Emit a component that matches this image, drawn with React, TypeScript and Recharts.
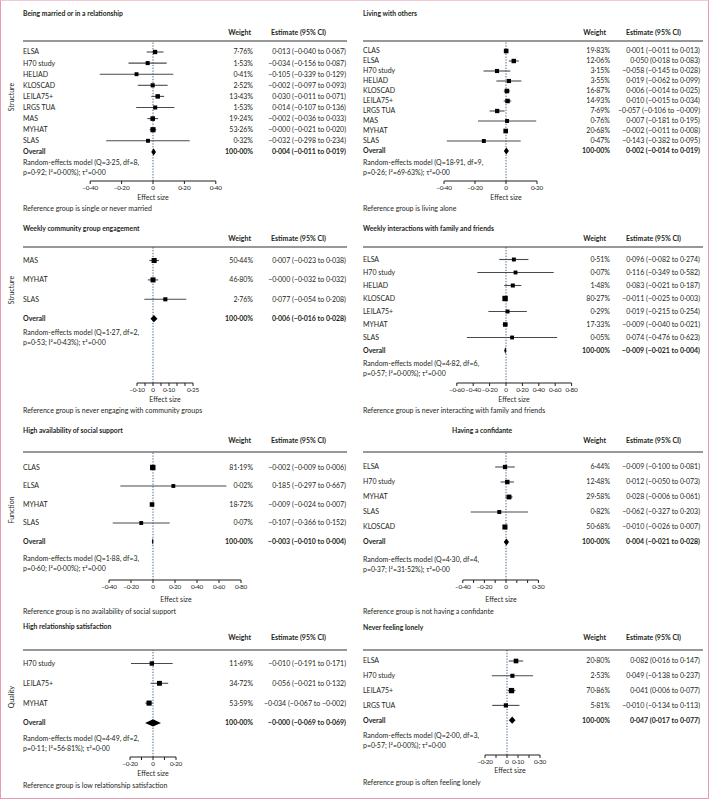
import React from 'react';
import { ScatterChart, Scatter, XAxis, YAxis, ErrorBar, ReferenceLine } from 'recharts';

const FONT = 'Lato, "Open Sans", sans-serif';
const INK = '#231f20';

// Being married or in a relationship
const marriedStudies = ['ELSA', 'H70 study', 'HELIAD', 'KLOSCAD', 'LEILA75+', 'LRGS TUA', 'MAS', 'MYHAT', 'SLAS', 'Overall'];
const marriedWeights = [7.76, 1.53, 0.41, 2.52, 13.43, 1.53, 19.24, 53.26, 0.32, 100];
const marriedEst = [0.013, -0.034, -0.105, -0.002, 0.03, 0.014, -0.002, -0, -0.032, 0.004];
const marriedLo = [-0.04, -0.156, -0.339, -0.097, -0.011, -0.107, -0.036, -0.021, -0.298, -0.011];
const marriedHi = [0.067, 0.087, 0.129, 0.093, 0.071, 0.136, 0.033, 0.02, 0.234, 0.019];
const marriedTicks = [-0.4, -0.2, 0, 0.2, 0.4];
const marriedLabels = [-0.4, -0.2, 0, 0.2, 0.4];

// Living with others
const livingStudies = ['CLAS', 'ELSA', 'H70 study', 'HELIAD', 'KLOSCAD', 'LEILA75+', 'LRGS TUA', 'MAS', 'MYHAT', 'SLAS', 'Overall'];
const livingWeights = [19.83, 12.06, 3.15, 3.55, 16.87, 14.93, 7.69, 0.76, 20.68, 0.47, 100];
const livingEst = [0.001, 0.05, -0.058, 0.019, 0.006, 0.01, -0.057, 0.007, -0.002, -0.143, 0.002];
const livingLo = [-0.011, 0.018, -0.145, -0.062, -0.014, -0.015, -0.106, -0.181, -0.011, -0.382, -0.014];
const livingHi = [0.013, 0.083, 0.028, 0.099, 0.025, 0.034, -0.009, 0.195, 0.008, 0.095, 0.019];
const livingTicks = [-0.4, -0.2, 0, 0.2];
const livingLabels = [-0.4, -0.2, 0, 0.2];

// Weekly community group engagement
const communityStudies = ['MAS', 'MYHAT', 'SLAS', 'Overall'];
const communityWeights = [50.44, 46.8, 2.76, 100];
const communityEst = [0.007, -0, 0.077, 0.006];
const communityLo = [-0.023, -0.032, -0.054, -0.016];
const communityHi = [0.038, 0.032, 0.208, 0.028];
const communityTicks = [-0.1, -0.05, 0, 0.05, 0.1, 0.15, 0.2, 0.25];
const communityLabels = [-0.1, 0, 0.1, 0.25];

// Weekly interactions with family and friends
const familyStudies = ['ELSA', 'H70 study', 'HELIAD', 'KLOSCAD', 'LEILA75+', 'MYHAT', 'SLAS', 'Overall'];
const familyWeights = [0.51, 0.07, 1.48, 80.27, 0.29, 17.33, 0.05, 100];
const familyEst = [0.096, 0.116, 0.083, -0.011, 0.019, -0.009, 0.074, -0.009];
const familyLo = [-0.082, -0.349, -0.021, -0.025, -0.215, -0.04, -0.476, -0.021];
const familyHi = [0.274, 0.582, 0.187, 0.003, 0.254, 0.021, 0.623, 0.004];
const familyTicks = [-0.6, -0.4, -0.2, 0, 0.2, 0.4, 0.6, 0.8];
const familyLabels = [-0.6, -0.4, -0.2, 0, 0.2, 0.4, 0.6, 0.8];

// High availability of social support
const supportStudies = ['CLAS', 'ELSA', 'MYHAT', 'SLAS', 'Overall'];
const supportWeights = [81.19, 0.02, 18.72, 0.07, 100];
const supportEst = [-0.002, 0.185, -0.009, -0.107, -0.003];
const supportLo = [-0.009, -0.297, -0.024, -0.366, -0.01];
const supportHi = [0.006, 0.667, 0.007, 0.152, 0.004];
const supportTicks = [-0.4, -0.2, 0, 0.2, 0.4, 0.6, 0.8];
const supportLabels = [-0.4, -0.2, 0, 0.2, 0.4, 0.6, 0.8];

// Having a confidante
const confidanteStudies = ['ELSA', 'H70 study', 'MYHAT', 'SLAS', 'KLOSCAD', 'Overall'];
const confidanteWeights = [6.44, 12.48, 29.58, 0.82, 50.68, 100];
const confidanteEst = [-0.009, 0.012, 0.028, -0.062, -0.01, 0.004];
const confidanteLo = [-0.1, -0.05, -0.006, -0.327, -0.026, -0.021];
const confidanteHi = [0.081, 0.073, 0.061, 0.203, 0.007, 0.028];
const confidanteTicks = [-0.4, -0.3, -0.2, -0.1, 0, 0.1, 0.2, 0.3];
const confidanteLabels = [-0.4, -0.2, 0, 0.3];

// High relationship satisfaction
const satisfactionStudies = ['H70 study', 'LEILA75+', 'MYHAT', 'Overall'];
const satisfactionWeights = [11.69, 34.72, 53.59, 100];
const satisfactionEst = [-0.01, 0.056, -0.034, -0];
const satisfactionLo = [-0.191, -0.021, -0.067, -0.069];
const satisfactionHi = [0.171, 0.132, -0.002, 0.069];
const satisfactionTicks = [-0.2, -0.1, 0, 0.1, 0.2];
const satisfactionLabels = [-0.2, 0, 0.2];

// Never feeling lonely
const lonelyStudies = ['ELSA', 'H70 study', 'LEILA75+', 'LRGS TUA', 'Overall'];
const lonelyWeights = [20.8, 2.53, 70.86, 5.81, 100];
const lonelyEst = [0.082, 0.049, 0.041, -0.01, 0.047];
const lonelyLo = [0.016, -0.138, 0.006, -0.134, 0.017];
const lonelyHi = [0.147, 0.237, 0.077, 0.113, 0.077];
const lonelyTicks = [-0.2, -0.1, 0, 0.1, 0.2, 0.3];
const lonelyLabels = [-0.2, 0, 0.1, 0.3];

const fmt = (v: number) => {
  const neg = v < 0 || Object.is(v, -0);
  return (neg ? '−' : '') + Math.abs(v).toFixed(3).replace('.', '·');
};
const fmtTick = (v: number) => {
  if (Math.abs(v) < 1e-9) return '0';
  return (v < 0 ? '−' : '') + Math.abs(v).toFixed(2).replace('.', '·');
};
const fmtWeight = (w: number) => w.toFixed(2).replace('.', '·') + '%';

const panels = [
  {
    title: 'Being married or in a relationship', studies: marriedStudies, weights: marriedWeights,
    est: marriedEst, lo: marriedLo, hi: marriedHi, ticks: marriedTicks, labels: marriedLabels,
    model: ['Random-effects model (Q=3·25, df=8,', 'p=0·92; I²=0·00%); τ²=0·00'],
    reference: 'Reference group is single or never married', side: 'Structure', sideY: 97,
    left: 0, titleX: 23, titleY: 14, headerY: 33, lineY: 41, rowY: 52, rowStep: 11.1, axisY: 181,
    zeroX: 153, ppu: 157, domain: [-0.4, 0.4], modelY: 163, effectX: 153, effectY: 198, refY: 209,
  },
  {
    title: 'Living with others', studies: livingStudies, weights: livingWeights,
    est: livingEst, lo: livingLo, hi: livingHi, ticks: livingTicks, labels: livingLabels,
    model: ['Random-effects model (Q=18·91, df=9,', 'p=0·26; I²=69·63%); τ²=0·00'],
    reference: 'Reference group is living alone',
    left: 355, titleX: 363, titleY: 14, headerY: 33, lineY: 41, rowY: 51, rowStep: 10, axisY: 181,
    zeroX: 506, ppu: 155, domain: [-0.4, 0.2], modelY: 163, effectX: 506, effectY: 198, refY: 209,
  },
  {
    title: 'Weekly community group engagement', studies: communityStudies, weights: communityWeights,
    est: communityEst, lo: communityLo, hi: communityHi, ticks: communityTicks, labels: communityLabels,
    model: ['Random-effects model (Q=1·27, df=2,', 'p=0·53; I²=0·43%); τ²=0·00'],
    reference: 'Reference group is never engaging with community groups', side: 'Structure', sideY: 290,
    left: 0, titleX: 23, titleY: 229, headerY: 239, lineY: 247, rowY: 260.5, rowStep: 19.4, axisY: 383,
    zeroX: 153, ppu: 160, domain: [-0.1, 0.25], modelY: 333, effectX: 165, effectY: 400, refY: 411,
  },
  {
    title: 'Weekly interactions with family and friends', studies: familyStudies, weights: familyWeights,
    est: familyEst, lo: familyLo, hi: familyHi, ticks: familyTicks, labels: familyLabels,
    model: ['Random-effects model (Q=4·82, df=6,', 'p=0·57; I²=0·00%); τ²=0·00'],
    reference: 'Reference group is never interacting with family and friends',
    left: 355, titleX: 363, titleY: 229, headerY: 239, lineY: 247, rowY: 259.5, rowStep: 13, axisY: 383,
    zeroX: 506, ppu: 82, domain: [-0.6, 0.8], modelY: 364, effectX: 514, effectY: 400, refY: 411,
  },
  {
    title: 'High availability of social support', studies: supportStudies, weights: supportWeights,
    est: supportEst, lo: supportLo, hi: supportHi, ticks: supportTicks, labels: supportLabels,
    model: ['Random-effects model (Q=1·88, df=3,', 'p=0·60; I²=0·00%); τ²=0·00'],
    reference: 'Reference group is no availability of social support', side: 'Function', sideY: 510,
    left: 0, titleX: 23, titleY: 431, headerY: 441, lineY: 452, rowY: 467.5, rowStep: 18.5, axisY: 580,
    zeroX: 153, ppu: 110, domain: [-0.4, 0.8], modelY: 559, effectX: 176, effectY: 600, refY: 612,
  },
  {
    title: 'Having a confidante', studies: confidanteStudies, weights: confidanteWeights,
    est: confidanteEst, lo: confidanteLo, hi: confidanteHi, ticks: confidanteTicks, labels: confidanteLabels,
    model: ['Random-effects model (Q=4·30, df=4,', 'p=0·37; I²=31·52%); τ²=0·00'],
    reference: 'Reference group is not having a confidante',
    left: 355, titleX: 452, titleY: 431, headerY: 441, lineY: 452, rowY: 467, rowStep: 15, axisY: 580,
    zeroX: 506, ppu: 108, domain: [-0.4, 0.3], modelY: 560, effectX: 501, effectY: 600, refY: 612,
  },
  {
    title: 'High relationship satisfaction', studies: satisfactionStudies, weights: satisfactionWeights,
    est: satisfactionEst, lo: satisfactionLo, hi: satisfactionHi, ticks: satisfactionTicks, labels: satisfactionLabels,
    model: ['Random-effects model (Q=4·49, df=2,', 'p=0·11; I²=56·81%); τ²=0·00'],
    reference: 'Reference group is low relationship satisfaction', side: 'Quality', sideY: 697,
    left: 0, titleX: 23, titleY: 627, headerY: 638, lineY: 650, rowY: 663.5, rowStep: 19.8, axisY: 757,
    zeroX: 153, ppu: 115, domain: [-0.2, 0.2], modelY: 739, effectX: 153, effectY: 774, refY: 786,
  },
  {
    title: 'Never feeling lonely', studies: lonelyStudies, weights: lonelyWeights,
    est: lonelyEst, lo: lonelyLo, hi: lonelyHi, ticks: lonelyTicks, labels: lonelyLabels,
    model: ['Random-effects model (Q=2·00, df=3,', 'p=0·57; I²=0·00%); τ²=0·00'],
    reference: 'Reference group is often feeling lonely',
    left: 355, titleX: 363, titleY: 628, headerY: 638, lineY: 650, rowY: 661, rowStep: 14.8, axisY: 755,
    zeroX: 507, ppu: 110, domain: [-0.2, 0.3], modelY: 736, effectX: 510, effectY: 771, refY: 783,
  },
];

const PANEL_W = 355;
const X_AXIS_H = 16;
const Y_AXIS_W = 1;

const squareSide = (w: number) => 3.8 + 1.8 * Math.sqrt(w / 100);

const Forest = ({ p }: { p: any }) => {
  const n = p.studies.length - 1;
  const isLeft = p.left === 0;
  const nameX = isLeft ? 23 : 8;
  const weightX = isLeft ? 253 : 255;
  const estX = isLeft ? 346 : 345;

  const [d0, d1] = p.domain;
  const plotLeft = p.zeroX - p.left + d0 * p.ppu;
  const plotW = (d1 - d0) * p.ppu;
  const mL = plotLeft - Y_AXIS_W;
  const mR = PANEL_W - plotLeft - plotW;
  const height = p.axisY - p.lineY + X_AXIS_H;
  const yTop = (p.lineY - p.rowY) / p.rowStep;
  const yBottom = (p.axisY - p.rowY) / p.rowStep;
  const hh = 3.6 / p.rowStep;

  const rows = p.studies.slice(0, n).map((s: string, i: number) => ({
    x: p.est[i],
    y: i,
    w: p.weights[i],
    err: [p.est[i] - p.lo[i], p.hi[i] - p.est[i]],
  }));
  const diamond = [
    { x: p.lo[n], y: n },
    { x: p.est[n], y: n - hh },
    { x: p.hi[n], y: n },
    { x: p.est[n], y: n + hh },
  ];
  const rowTicks = p.studies.map((_: string, i: number) => i);

  const RowTick = (props: any) => {
    const { y, payload } = props;
    const i = payload.value;
    const bold = i === n;
    const common = { y, dy: '0.35em', fontSize: 7, fill: INK, fontFamily: FONT, fontWeight: bold ? 700 : 400 };
    return (
      <g>
        <text x={nameX} {...common}>{p.studies[i]}</text>
        <text x={weightX} textAnchor="end" {...common}>{fmtWeight(p.weights[i])}</text>
        <text x={estX} textAnchor="end" {...common}>
          {`${fmt(p.est[i])} (${fmt(p.lo[i])} to ${fmt(p.hi[i])})`}
        </text>
      </g>
    );
  };

  const AxisTick = (props: any) => {
    const { x, y, payload } = props;
    const v = payload.value;
    if (!p.labels.some((l: number) => Math.abs(l - v) < 1e-9)) return <g />;
    return (
      <text x={x} y={y} dy="0.71em" textAnchor="middle" fontSize={6.4} letterSpacing={-0.15} fill={INK} fontFamily={FONT}>
        {fmtTick(v)}
      </text>
    );
  };

  return (
    <div style={{ position: 'absolute', left: p.left, top: p.lineY }}>
      <ScatterChart width={PANEL_W} height={height} margin={{ top: 0, right: mR, bottom: 0, left: mL }}>
        <XAxis
          type="number"
          dataKey="x"
          domain={p.domain}
          allowDataOverflow
          ticks={p.ticks}
          interval={0}
          height={X_AXIS_H}
          tickSize={3}
          tickMargin={1}
          axisLine={{ stroke: INK, strokeWidth: 1 }}
          tickLine={{ stroke: INK, strokeWidth: 1 }}
          tick={AxisTick}
        />
        <YAxis
          type="number"
          dataKey="y"
          domain={[yTop, yBottom]}
          allowDataOverflow
          reversed
          ticks={rowTicks}
          interval={0}
          width={Y_AXIS_W}
          axisLine={false}
          tickLine={false}
          tick={RowTick}
        />
        <ReferenceLine x={0} stroke="#3f6189" strokeWidth={1} strokeDasharray="1.3 1.5" />
        <Scatter
          data={rows}
          isAnimationActive={false}
          fill="#000"
          shape={(s: any) => {
            const side = squareSide(s.payload.w);
            return <rect x={s.cx - side / 2} y={s.cy - side / 2} width={side} height={side} fill="#000" />;
          }}
        >
          <ErrorBar dataKey="err" direction="x" width={0} stroke="#4a4a4a" strokeWidth={1.1} isAnimationActive={false} />
        </Scatter>
        <Scatter
          data={diamond}
          isAnimationActive={false}
          fill="#000"
          shape={() => <g />}
          line={(lp: any) => (
            <polygon points={lp.points.map((pt: any) => `${pt.x},${pt.y}`).join(' ')} fill="#000" stroke="none" />
          )}
          lineType="joint"
        />
      </ScatterChart>
    </div>
  );
};

const Labels = () => (
  <svg width={710} height={801} style={{ position: 'absolute', left: 0, top: 0, pointerEvents: 'none' }}>
    {panels.map((p, k) => {
      const isLeft = p.left === 0;
      const x = p.left + (isLeft ? 23 : 8);
      const lineEnd = p.left + (isLeft ? 347 : 348);
      const t = { fontFamily: FONT, fill: INK, fontSize: 7 };
      return (
        <g key={k}>
          <text x={p.titleX} y={p.titleY} dy="0.35em" {...t} fontSize={6.8} fontWeight={700}>{p.title}</text>
          <text x={p.left + 251} y={p.headerY} dy="0.35em" textAnchor="end" {...t} fontWeight={700}>Weight</text>
          <text x={p.left + 271} y={p.headerY} dy="0.35em" {...t} fontWeight={700}>Estimate (95% CI)</text>
          <line x1={x} x2={lineEnd} y1={p.lineY} y2={p.lineY} stroke="#333" strokeWidth={1.2} />
          <text x={x} y={p.modelY} dy="0.35em" {...t}>{p.model[0]}</text>
          <text x={x} y={p.modelY + 9.5} dy="0.35em" {...t}>{p.model[1]}</text>
          <text x={p.effectX} y={p.effectY} dy="0.35em" textAnchor="middle" {...t}>Effect size</text>
          <text x={x} y={p.refY} dy="0.35em" {...t}>{p.reference}</text>
          {p.side && (
            <text
              x={12}
              y={p.sideY}
              dy="0.35em"
              textAnchor="middle"
              transform={`rotate(-90 12 ${p.sideY})`}
              {...t}
            >
              {p.side}
            </text>
          )}
        </g>
      );
    })}
  </svg>
);

export default function App() {
  return (
    <div style={{ position: 'absolute', left: 0, top: 0, width: 710, height: 801, background: '#fff', fontFamily: FONT }}>
      {panels.map((p, k) => (
        <Forest key={k} p={p} />
      ))}
      <Labels />
      <div
        style={{
          position: 'absolute', left: 0, top: 0, width: 709, height: 799,
          boxSizing: 'border-box', border: '1.5px solid #e99bb4', borderTopColor: '#f3c8d5',
        }}
      />
    </div>
  );
}
